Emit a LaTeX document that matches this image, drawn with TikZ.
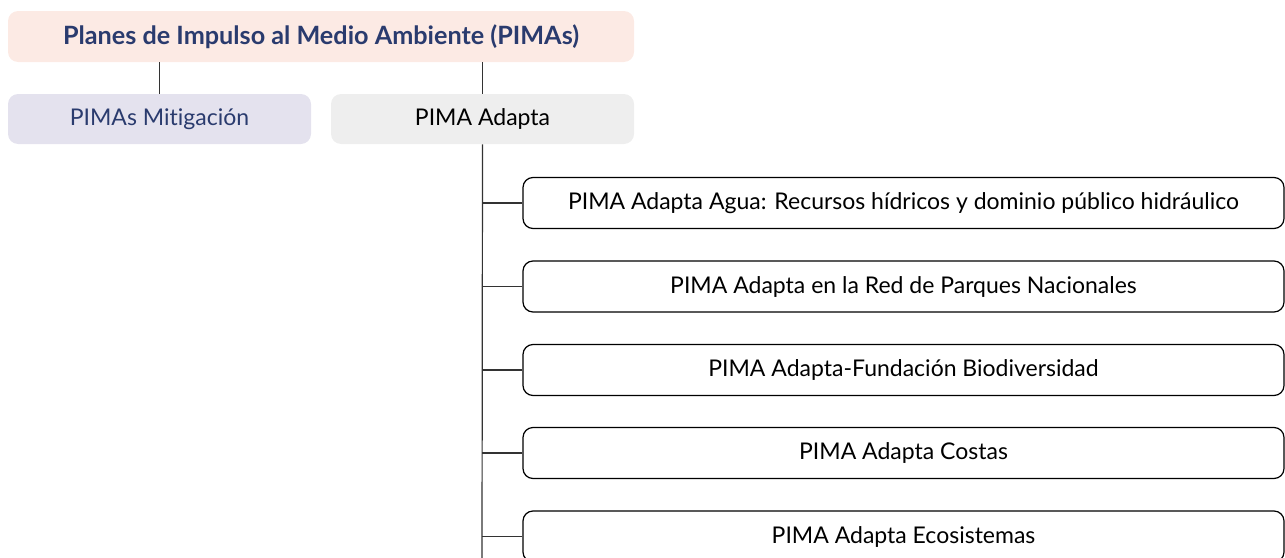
\documentclass[tikz,border=0pt]{standalone}
\usepackage{fontspec}
\setmainfont{Lato}[Ligatures=NoCommon]
\usepackage{tikz}
\definecolor{pimanavy}{RGB}{42, 59, 110}
\definecolor{pimapeach}{RGB}{252, 234, 228}
\definecolor{pimalilac}{RGB}{228, 226, 238}
\definecolor{pimagray}{RGB}{238, 238, 238}
\definecolor{pimaline}{RGB}{51, 51, 51}

\begin{document}
\begin{tikzpicture}[
    x=0.5pt, y=-0.5pt,
    font=\fontsize{11.5}{13}\selectfont,
    rootbox/.style={rectangle, fill=pimapeach, text=pimanavy, font=\fontsize{12.6}{14}\selectfont\bfseries, minimum width=313pt, minimum height=25.5pt, rounded corners=5pt},
    mitbox/.style={rectangle, fill=pimalilac, text=pimanavy, minimum width=151.5pt, minimum height=25pt, rounded corners=5pt},
    adabox/.style={rectangle, fill=pimagray, text=black, minimum width=151.5pt, minimum height=25pt, rounded corners=5pt},
    leafbox/.style={rectangle, draw=black, line width=0.6pt, fill=white, minimum width=380.5pt, minimum height=25.5pt, rounded corners=5pt},
    link/.style={draw=pimaline, line width=0.6pt}
]
    \useasboundingbox (0,0) rectangle (1285,557);

    % Top Layer
    \node[rootbox] (pimas) at (321,36.5) {Planes de Impulso al Medio Ambiente (PIMAs)};

    % Second Layer
    \node[mitbox] (mitigacion) at (159.5,119) {PIMAs Mitigación};
    \node[adabox] (adapta) at (482.5,119) {PIMA Adapta};

    % Adapta Plans
    \node[leafbox] (agua) at (903.5,203) {PIMA Adapta Agua: Recursos hídricos y dominio público hidráulico};
    \node[leafbox] (parques) at (903.5,286.5) {PIMA Adapta en la Red de Parques Nacionales};
    \node[leafbox] (fundacion) at (903.5,370) {PIMA Adapta-Fundación Biodiversidad};
    \node[leafbox] (costas) at (903.5,453) {PIMA Adapta Costas};
    \node[leafbox] (ecosistemas) at (903.5,536.5) {PIMA Adapta Ecosistemas};
    \coordinate (trunkend) at (482,560);

    % Connections
    \draw[link] (mitigacion.north) -- (mitigacion.north |- pimas.south);
    \draw[link] (adapta.north) -- (adapta.north |- pimas.south);
    \draw[link] (adapta.south) -- (trunkend);
    \draw[link] (agua.west) -- (agua.west -| trunkend);
    \draw[link] (parques.west) -- (parques.west -| trunkend);
    \draw[link] (fundacion.west) -- (fundacion.west -| trunkend);
    \draw[link] (costas.west) -- (costas.west -| trunkend);
    \draw[link] (ecosistemas.west) -- (ecosistemas.west -| trunkend);
\end{tikzpicture}
\end{document}
